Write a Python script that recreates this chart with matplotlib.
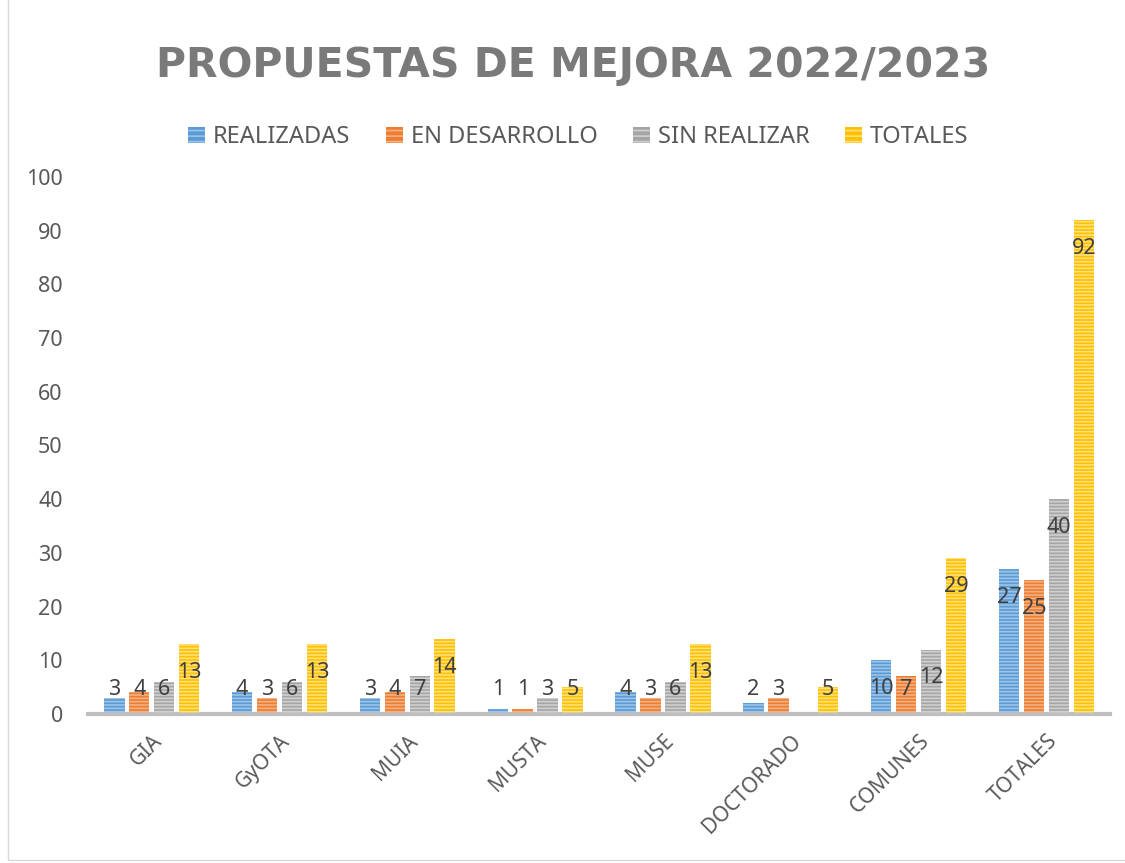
import numpy as np
import matplotlib.pyplot as plt
from matplotlib.patches import Rectangle, Patch

# Datos
categorias = ['GIA', 'GyOTA', 'MUIA', 'MUSTA', 'MUSE', 'DOCTORADO', 'COMUNES', 'TOTALES']
realizadas = [3, 4, 3, 1, 4, 2, 10, 27]
en_desarrollo = [4, 3, 4, 1, 3, 3, 7, 25]
sin_realizar = [6, 6, 7, 3, 6, 0, 12, 40]
totales = [13, 13, 14, 5, 13, 5, 29, 92]

series = ['REALIZADAS', 'EN DESARROLLO', 'SIN REALIZAR', 'TOTALES']
valores = [realizadas, en_desarrollo, sin_realizar, totales]
colores = ['#5B9BD5', '#ED7D31', '#A5A5A5', '#FFC000']
rayas = ['#9DC3E6', '#F4B183', '#D0D0D0', '#FFE07A']

plt.rcParams['font.family'] = ['Noto Sans', 'DejaVu Sans']
plt.rcParams['hatch.linewidth'] = 1.2

fig = plt.figure(figsize=(11.25, 8.63), dpi=100)
ax = fig.add_axes([0.078, 0.1727, 0.909, 0.6223])

x = np.arange(len(categorias))
paso = 0.195
ancho = 0.16

for i, (nombre, vals, c, r) in enumerate(zip(series, valores, colores, rayas)):
    pos = x + (i - 1.5) * paso
    ax.bar(pos, vals, width=ancho, color=c, edgecolor='none', zorder=2)
    # rayas horizontales claras encima del relleno
    ax.bar(pos, vals, width=ancho, facecolor='none', edgecolor=r, hatch='-----',
           linewidth=0, zorder=3)
    for p, v in zip(pos, vals):
        if v == 0:
            continue
        ax.text(p, max(v - 5.3, 4.5), str(v), ha='center', va='center',
                fontsize=15.5, color='#404040', zorder=4)

ax.set_xlim(-0.5, len(categorias) - 0.5)
ax.set_ylim(0, 100)
ax.set_yticks(range(0, 101, 10))
ax.tick_params(axis='y', length=0, labelsize=15.5, labelcolor='#595959', pad=18)
ax.set_xticks(x)
ax.set_xticklabels(categorias, rotation=45, ha='right', rotation_mode='anchor')
ax.tick_params(axis='x', length=0, labelsize=15, labelcolor='#595959', pad=12)

for s in ['top', 'right', 'left']:
    ax.spines[s].set_visible(False)
ax.spines['bottom'].set_color('#BFBFBF')
ax.spines['bottom'].set_linewidth(3)

fig.text(0.509, 0.923, 'PROPUESTAS DE MEJORA 2022/2023', ha='center', va='center',
         fontsize=29.5, fontweight='bold', color='#7A7A7A', family='DejaVu Sans')

handles = [Patch(facecolor=c, edgecolor=r, hatch='---', linewidth=0)
           for c, r in zip(colores, rayas)]
fig.legend(handles, series, loc='center', bbox_to_anchor=(0.514, 0.841), ncol=4,
           frameon=False, fontsize=17, labelcolor='#595959', handlelength=0.72,
           handleheight=0.72, handletextpad=0.34, columnspacing=1.5)

fig.patches.append(Rectangle((0.007, 0.003), 1.2, 1.2, transform=fig.transFigure,
                             facecolor='none', edgecolor='#D9D9D9', linewidth=1))

fig.savefig('out.png', dpi=100)
